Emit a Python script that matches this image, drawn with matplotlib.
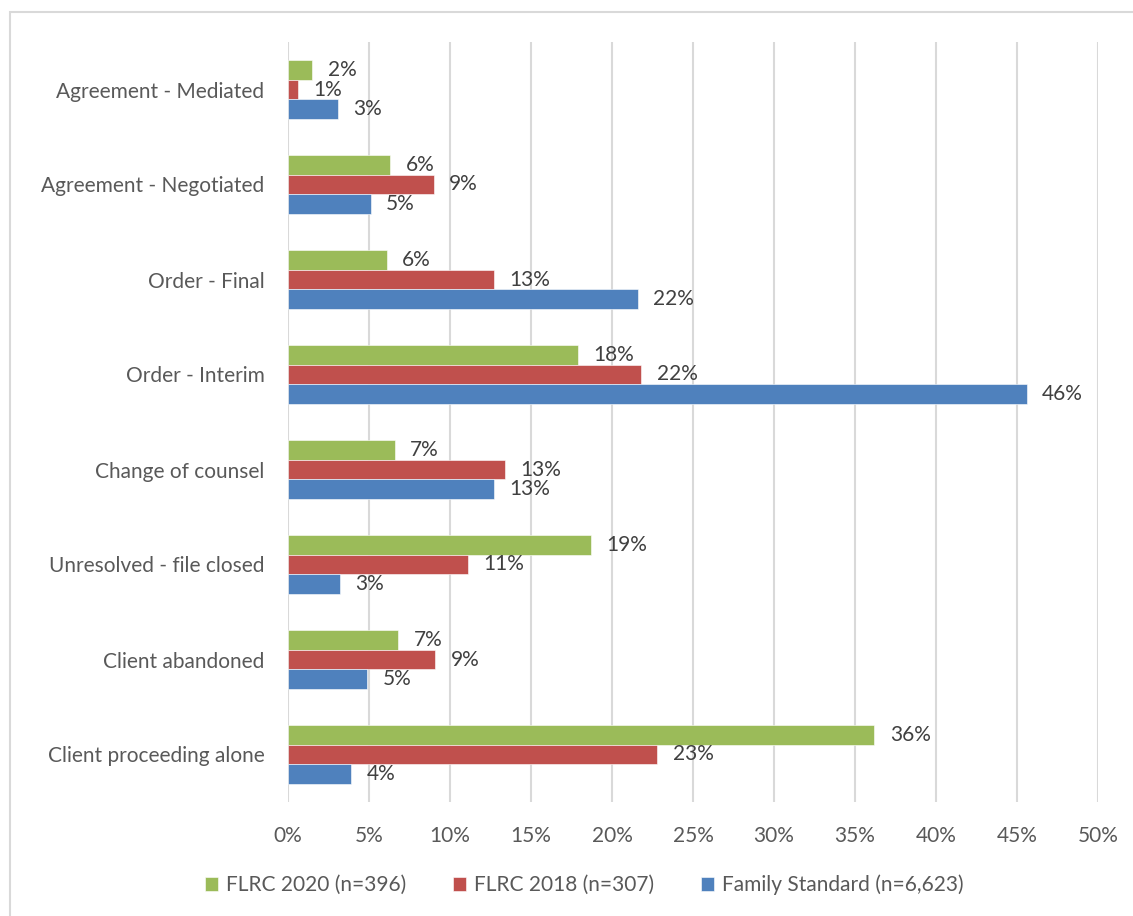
import numpy as np
import matplotlib.pyplot as plt
from matplotlib.patches import Rectangle

# outcome categories, top to bottom
categories = [
    "Agreement - Mediated",
    "Agreement - Negotiated",
    "Order - Final",
    "Order - Interim",
    "Change of counsel",
    "Unresolved - file closed",
    "Client abandoned",
    "Client proceeding alone",
]

# share of files (%) per outcome
flrc_2020 = [1.5, 6.3, 6.1, 17.9, 6.6, 18.7, 6.8, 36.2]
flrc_2018 = [0.6, 9.0, 12.7, 21.8, 13.4, 11.1, 9.1, 22.8]
family_standard = [3.1, 5.1, 21.6, 45.6, 12.7, 3.2, 4.9, 3.9]

series_names = ["FLRC 2020 (n=396)", "FLRC 2018 (n=307)", "Family Standard (n=6,623)"]
series_colors = ["#9BBB59", "#C0504D", "#4F81BD"]

x_ticks = np.arange(0, 51, 5)

plt.rcParams["font.family"] = ["Lato", "DejaVu Sans"]
label_color = "#404040"
axis_color = "#595959"
fs = 15

fig = plt.figure(figsize=(11.33, 9.16), dpi=100)
ax = fig.add_axes([288 / 1133, 1 - 802 / 916, 810 / 1133, 760 / 916])

# light frame around the chart
fig.patches.append(Rectangle((10.5 / 1133, -0.05), 1.1, 1 - 12 / 916 + 0.05,
                             transform=fig.transFigure, fill=False,
                             edgecolor="#D9D9D9", linewidth=1.5))

y = np.arange(len(categories))
bar_h = 0.205
offsets = [-bar_h, 0, bar_h]

for vals, name, color, off in zip([flrc_2020, flrc_2018, family_standard],
                                  series_names, series_colors, offsets):
    ax.barh(y + off, vals, height=bar_h, color=color, label=name,
            edgecolor="white", linewidth=0.4, zorder=3)
    for yi, v in zip(y, vals):
        ax.text(v + 0.95, yi + off, f"{v:.0f}%", ha="left", va="center",
                fontsize=fs, color=label_color, zorder=4)

ax.set_ylim(len(categories) - 0.5, -0.5)
ax.set_xlim(0, 50)
ax.set_yticks(y)
ax.set_yticklabels(categories, fontsize=fs, color=axis_color)
ax.set_xticks(x_ticks)
ax.set_xticklabels([f"{t}%" for t in x_ticks], fontsize=fs, color=axis_color)

ax.grid(axis="x", color="#D9D9D9", linewidth=1.5, zorder=0)
ax.tick_params(axis="both", length=0)
ax.tick_params(axis="x", pad=17)
ax.tick_params(axis="y", pad=17)
for s in ax.spines.values():
    s.set_visible(False)

handles, labels = ax.get_legend_handles_labels()
fig.legend(handles, labels, loc="center", bbox_to_anchor=(584 / 1133, 1 - 885 / 916),
           ncol=3, frameon=False, fontsize=fs, labelcolor=axis_color,
           handlelength=0.65, handleheight=0.65, handletextpad=0.35, columnspacing=2.25)

fig.savefig("out.png", dpi=100)
